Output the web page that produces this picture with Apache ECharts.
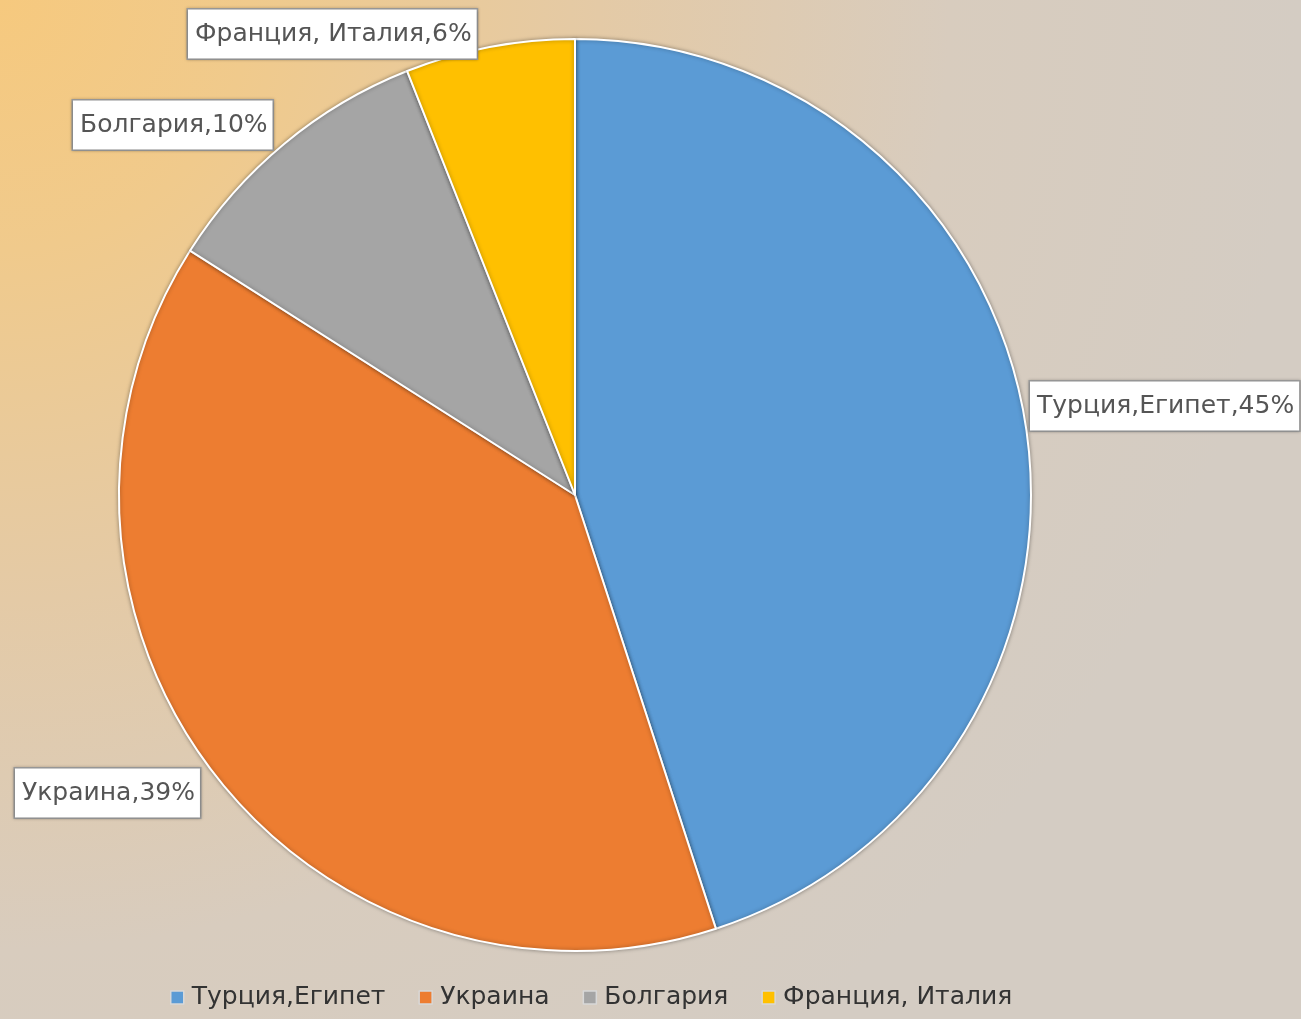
<!DOCTYPE html>
<html>
<head>
<meta charset="utf-8">
<script src="https://cdn.jsdelivr.net/npm/echarts@6/dist/echarts.min.js"></script>
<style>
html,body{margin:0;padding:0;width:1301px;height:1019px;overflow:hidden;
background: radial-gradient(circle at 0 0, #F6C97E 0px, #F0CA8C 250px, #E4CAA6 600px, #D8CCBE 950px, #D4CCC3 1300px);}
#c{width:1301px;height:1019px;}
</style>
</head>
<body>
<div id="c"></div>
<script>
const categories = ['Турция,Египет', 'Украина', 'Болгария', 'Франция, Италия'];
const values = [45, 39, 10, 6];
const colors = ['#5B9BD5', '#ED7D31', '#A5A5A5', '#FFC000'];

const chart = echarts.init(document.getElementById('c'), null, {renderer: 'canvas'});
const labelFont = "'DejaVu Sans', 'Noto Sans', sans-serif";
chart.setOption({
  backgroundColor: 'transparent',
  animation: false,
  color: colors,
  legend: {
    bottom: 4,
    left: 165,
    itemWidth: 13,
    itemHeight: 13,
    itemGap: 33,
    icon: 'rect',
    textStyle: {fontFamily: labelFont, fontSize: 25, color: '#333333', padding: [0, 0, 0, 3]},
    itemStyle: {borderColor: '#d8d8d8', borderWidth: 1.5},
    data: categories
  },
  series: [{
    type: 'pie',
    center: [575, 495],
    radius: [0, 456],
    startAngle: 90,
    clockwise: true,
    avoidLabelOverlap: false,
    itemStyle: {borderColor: '#ffffff', borderWidth: 2, shadowBlur: 4, shadowColor: 'rgba(0,0,0,0.35)'},
    emphasis: {disabled: true},
    labelLine: {show: false, length: 4, length2: 0},
    label: {
      show: true,
      position: 'outside',
      formatter: p => p.name + ',' + p.value + '%',
      fontFamily: labelFont,
      fontSize: 25,
      color: '#555555',
      backgroundColor: '#ffffff',
      borderColor: '#9a9a9a',
      borderWidth: 1.5,
      padding: [13, 5, 11, 7],
      shadowBlur: 3,
      shadowColor: 'rgba(0,0,0,0.25)',
      distanceToLabelLine: 2
    },
    labelLayout: function (p) {
      const r = p.labelRect;
      const pos = [
        {x: 1030, y: 380},
        {x: 15, y: 767},
        {x: 73, y: 99},
        {x: 188, y: 8}
      ][p.dataIndex];
      return {x: pos.x, y: pos.y + r.height / 2, align: 'left', verticalAlign: 'middle'};
    },
    data: categories.map((n, i) => ({name: n, value: values[i]}))
  }]
});
</script>
</body>
</html>
